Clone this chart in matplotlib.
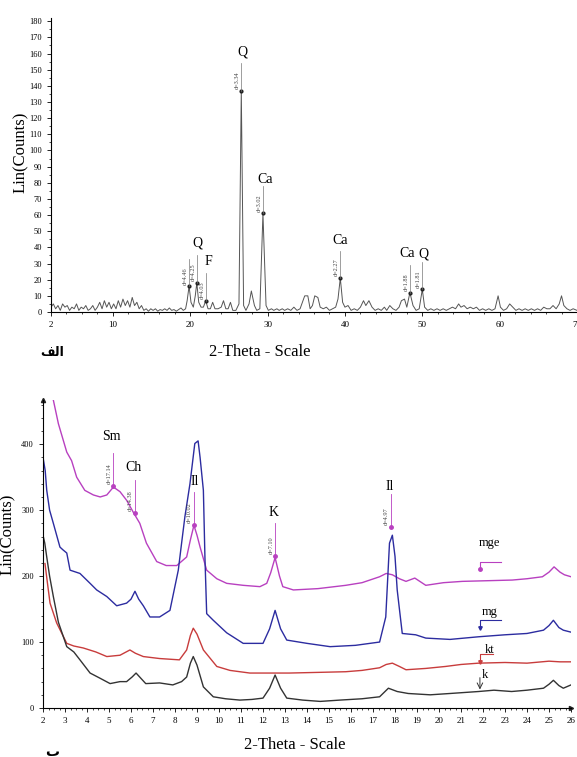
import numpy as np
import matplotlib
matplotlib.use('Agg')
import matplotlib.pyplot as plt
from matplotlib.ticker import MultipleLocator

plt.rcParams['font.family'] = ['Liberation Serif', 'DejaVu Sans']

# top pattern (2-theta, counts)
top_theta = [2.0, 2.3, 2.6, 2.9, 3.2, 3.5, 3.8, 4.1, 4.4, 4.7, 5.0, 5.3, 5.6, 5.9, 6.2, 6.5,
             6.8, 7.1, 7.4, 7.7, 8.0, 8.3, 8.6, 8.9, 9.2, 9.5, 9.8, 10.1, 10.4, 10.7, 11.0,
             11.3, 11.6, 11.9, 12.2, 12.5, 12.8, 13.1, 13.4, 13.7, 14.0, 14.3, 14.6, 14.9,
             15.2, 15.5, 15.8, 16.1, 16.4, 16.7, 17.0, 17.3, 17.6, 17.9, 18.2, 18.5, 18.8,
             19.1, 19.4, 19.6, 19.85, 20.1, 20.4, 20.65, 20.85, 21.1, 21.4, 21.7, 22.0, 22.3,
             22.6, 22.9, 23.2, 23.6, 24.0, 24.3, 24.6, 24.9, 25.2, 25.5, 25.9, 26.3, 26.6,
             26.9, 27.2, 27.6, 27.9, 28.3, 28.6, 29.0, 29.4, 29.8, 30.1, 30.5, 30.8, 31.2,
             31.5, 31.9, 32.2, 32.6, 33.0, 33.4, 33.8, 34.2, 34.5, 34.8, 35.2, 35.5, 35.8,
             36.1, 36.5, 36.8, 37.2, 37.6, 38.0, 38.4, 38.8, 39.1, 39.4, 39.7, 40.0, 40.4,
             40.8, 41.2, 41.6, 42.0, 42.4, 42.7, 43.1, 43.5, 43.9, 44.3, 44.7, 45.1, 45.4,
             45.8, 46.2, 46.6, 47.0, 47.3, 47.7, 48.0, 48.4, 48.8, 49.2, 49.6, 50.0, 50.3,
             50.7, 51.1, 51.5, 51.9, 52.3, 52.7, 53.1, 53.5, 53.9, 54.3, 54.7, 55.0, 55.4,
             55.8, 56.2, 56.6, 57.0, 57.4, 57.8, 58.2, 58.6, 59.0, 59.4, 59.8, 60.1, 60.5,
             60.9, 61.3, 61.7, 62.1, 62.5, 62.9, 63.3, 63.7, 64.1, 64.5, 64.9, 65.3, 65.7,
             66.1, 66.5, 66.9, 67.3, 67.7, 68.0, 68.3, 68.7, 69.1, 69.5, 70.0]
top_counts = [3, 5, 2, 4, 1, 5, 3, 4, 1, 3, 2, 5, 1, 3, 2, 4,
              1, 2, 4, 1, 3, 6, 2, 7, 3, 6, 2, 5, 2, 7, 3,
              8, 4, 7, 3, 9, 4, 6, 2, 4, 1, 2, 0.5, 2,
              1, 2, 0.5, 1.5, 1, 2, 1, 2.5, 1, 1.5, 0.5, 1.5, 2.5,
              1, 2, 7, 16, 6, 3, 10, 18, 6, 3, 3, 7, 2,
              2, 6, 2, 2, 3, 7, 2, 2, 6, 1, 1, 5, 137,
              4, 1, 5, 13, 4, 1, 2, 61, 4, 1, 2, 1, 2,
              1, 2, 1, 2, 1, 3, 1, 2, 6, 10, 10, 2, 4,
              10, 9, 3, 2, 3, 1, 2, 3, 8, 21, 6, 3, 4,
              1, 2, 1, 3, 7, 4, 7, 3, 1, 2, 1, 3, 1,
              4, 2, 1, 3, 7, 8, 3, 12, 4, 1, 2, 14, 3,
              1, 2, 1, 2, 1, 2, 1, 2, 3, 2, 5, 3, 4,
              2, 3, 2, 3, 1, 2, 1, 2, 1, 2, 10, 3, 1,
              2, 5, 3, 1, 2, 1, 2, 1, 2, 1, 2, 1, 3,
              2, 2, 4, 2, 5, 10, 4, 2, 1, 2, 1]

# picked peaks of the top pattern
top_pk_theta = [19.85, 20.85, 22.0, 26.6, 29.4, 39.4, 48.4, 50.0]
top_pk_counts = [16, 18, 7, 137, 61, 21, 12, 14]
top_pk_d = ['d=4.46', 'd=4.25', 'd=4.03', 'd=3.34', 'd=3.02', 'd=2.27', 'd=1.88', 'd=1.81']
top_min_labels = ['Q', 'F', 'Q', 'Ca', 'Ca', 'Ca', 'Q']
top_min_theta = [20.9, 22.3, 26.7, 29.7, 39.4, 48.0, 50.1]
top_min_counts = [43, 31, 161, 82, 44, 36, 36]

# bottom patterns
mge_theta = [2.45, 2.7, 3.08, 3.3, 3.53, 3.9, 4.29, 4.6, 4.9, 5.2, 5.5, 5.8, 6.1, 6.4, 6.7, 7.17,
             7.6, 8.08, 8.53, 8.7, 8.86, 9.0, 9.14, 9.44, 9.9, 10.35, 11.1, 11.86, 12.17, 12.35,
             12.55, 12.75, 12.9, 13.38, 14.5, 15.76, 16.5, 17.3, 17.6, 17.88, 18.2, 18.5, 18.9,
             19.4, 20.2, 21.06, 22.2, 23.33, 24.0, 24.7, 25.0, 25.23, 25.5, 25.7, 26.0]
mge_counts = [470, 431, 388, 375, 350, 330, 323, 320, 323, 335, 328, 315, 297, 280, 250, 222,
              216, 216, 229, 255, 277, 262, 244, 209, 196, 189, 186, 184, 189, 205,
              228, 200, 184, 179, 181, 186, 190, 199, 204, 202, 196, 192, 197,
              186, 190, 192, 193, 194, 196, 199, 206, 214, 206, 202, 199]

mg_theta = [2.0, 2.1, 2.17, 2.3, 2.47, 2.77, 2.9, 3.08, 3.23, 3.68, 4.14, 4.44, 4.9, 5.35, 5.8,
            6.0, 6.18, 6.35, 6.56, 6.86, 7.3, 7.77, 8.15, 8.3, 8.45, 8.68, 8.9, 9.05, 9.14,
            9.29, 9.36, 9.44, 9.74, 10.35, 11.1, 12.0, 12.3, 12.55, 12.8, 13.08, 14.0, 15.05,
            16.2, 17.3, 17.58, 17.75, 17.88, 18.0, 18.1, 18.33, 18.94, 19.4, 20.5, 21.8, 23.0,
            24.0, 24.75, 25.0, 25.2, 25.45, 25.65, 26.0]
mg_counts = [380, 360, 330, 300, 280, 244, 240, 235, 209, 204, 189, 179, 169, 155, 159,
             165, 177, 165, 155, 138, 138, 148, 209, 250, 290, 340, 401, 405, 380,
             330, 229, 143, 133, 114, 98, 98, 120, 148, 120, 103, 98, 93,
             95, 100, 138, 250, 262, 230, 179, 113, 111, 106, 104, 108, 111,
             113, 118, 125, 133, 122, 118, 115]

kt_theta = [2.09, 2.2, 2.32, 2.62, 3.08, 3.4, 3.83, 4.4, 4.9, 5.5, 5.95, 6.2, 6.56, 7.3, 8.2,
            8.53, 8.7, 8.83, 9.0, 9.29, 9.9, 10.5, 11.4, 12.3, 13.2, 14.5, 15.76, 16.5, 17.3,
            17.6, 17.88, 18.2, 18.5, 19.4, 20.3, 21.0, 21.8, 23.0, 24.0, 25.0, 25.5, 26.0]
kt_counts = [219, 190, 159, 129, 98, 94, 91, 85, 78, 80, 88, 83, 78, 75, 73,
             88, 110, 121, 112, 88, 63, 57, 53, 53, 53, 54, 55, 57, 61,
             66, 68, 63, 58, 60, 63, 66, 68, 69, 68, 71, 70, 70]

k_theta = [2.0, 2.08, 2.17, 2.3, 2.47, 2.7, 3.08, 3.4, 3.68, 4.14, 4.6, 5.05, 5.5, 5.8, 6.05,
           6.23, 6.45, 6.67, 7.3, 7.9, 8.3, 8.53, 8.7, 8.83, 9.0, 9.29, 9.74, 10.3, 10.95, 11.5,
           12.0, 12.3, 12.55, 12.8, 13.08, 13.8, 14.6, 15.5, 16.5, 17.3, 17.7, 18.1, 18.6, 19.6,
           20.5, 21.8, 22.5, 23.3, 24.0, 24.75, 25.0, 25.2, 25.45, 25.65, 26.0]
k_counts = [262, 250, 229, 200, 169, 130, 93, 85, 73, 53, 45, 37, 40, 40, 47,
            53, 45, 37, 38, 35, 40, 47, 68, 78, 65, 32, 17, 14, 12, 13,
            15, 30, 50, 30, 15, 12, 10, 12, 14, 17, 30, 25, 22, 20,
            22, 25, 27, 25, 27, 30, 36, 42, 34, 30, 35]

bot_pk_theta = [5.2, 6.18, 8.86, 12.55, 17.8]
bot_pk_counts = [337, 295, 277, 230, 275]
bot_pk_d = ['d=17.14', 'd=14.38', 'd=10.02', 'd=7.10', 'd=4.97']
bot_min_labels = ['Sm', 'Ch', 'Il', 'K', 'Il']
bot_min_theta = [5.1, 6.1, 8.9, 12.5, 17.77]
bot_min_counts = [411, 364, 343, 297, 336]

sample_names = ['mge', 'mg', 'kt', 'k']
sample_colors = ['#b840c0', '#2c2ca0', '#c83c3c', '#333333']
flag_counts = [210, 121, 70, 28]
name_counts = [250, 146, 88, 50]

fig = plt.figure(figsize=(5.77, 7.57), dpi=100)

# ---- top panel
ax1 = fig.add_axes([51/577, 445/757, 526/577, 294/757])
ax1.plot(top_theta, top_counts, color='#555555', linewidth=0.7)
ax1.set_xlim(2, 70)
ax1.set_ylim(0, 182)
for x, y, d in zip(top_pk_theta, top_pk_counts, top_pk_d):
    ax1.plot(x, y, 'o', color='#222222', markersize=2)
    ax1.plot([x, x], [y, y + 17], color='#777777', linewidth=0.5)
    ax1.text(x - 0.15, y + 1, d, rotation=90, fontsize=4.5, ha='right', va='bottom', color='#444444')
for lab, x, y in zip(top_min_labels, top_min_theta, top_min_counts):
    ax1.text(x, y, lab, fontsize=10, ha='center', va='center')
ax1.set_xticks([2, 10, 20, 30, 40, 50, 60, 70])
ax1.set_yticks(np.arange(0, 181, 10))
ax1.yaxis.set_minor_locator(MultipleLocator(5))
ax1.xaxis.set_minor_locator(MultipleLocator(2))
ax1.tick_params(labelsize=6.5, length=3, width=0.6)
ax1.tick_params(axis='y', labelsize=6)
ax1.tick_params(which='minor', length=1.5, width=0.5)
for s in ['top', 'right']:
    ax1.spines[s].set_visible(False)
for s in ['left', 'bottom']:
    ax1.spines[s].set_linewidth(0.8)

fig.text(21/577, 1 - 152/757, 'Lin(Counts)', rotation=90, fontsize=12, ha='center', va='center')
fig.text(260/577, 1 - 352/757, '2-Theta - Scale', fontsize=12, ha='center', va='center')
fig.text(52/577, 1 - 352/757, '\ufed2\ufedf\ufe8d', family='DejaVu Sans', fontsize=9,
         fontweight='bold', ha='center', va='center')

# ---- bottom panel
ax2 = fig.add_axes([43/577, 49/757, 528/577, 308/757])
curves = [(mge_theta, mge_counts), (mg_theta, mg_counts), (kt_theta, kt_counts), (k_theta, k_counts)]
for (tx, ty), c in zip(curves, sample_colors):
    ax2.plot(tx, ty, color=c, linewidth=1.0)
ax2.set_xlim(2, 26)
ax2.set_ylim(0, 467)
for x, y, d in zip(bot_pk_theta, bot_pk_counts, bot_pk_d):
    ax2.plot(x, y, 'o', color=sample_colors[0], markersize=2.5)
    ax2.plot([x, x], [y, y + 50], color=sample_colors[0], linewidth=0.6)
    ax2.text(x - 0.08, y + 3, d, rotation=90, fontsize=4.5, ha='right', va='bottom', color='#444444')
for lab, x, y in zip(bot_min_labels, bot_min_theta, bot_min_counts):
    ax2.text(x, y, lab, fontsize=10, ha='center', va='center')

fx = 21.86
for name, c, fy, ny in zip(sample_names, sample_colors, flag_counts, name_counts):
    if name == 'k':
        ax2.annotate('', xy=(fx, fy), xytext=(fx, fy + 18),
                     arrowprops=dict(arrowstyle='->', color=c, lw=0.7, shrinkA=0, shrinkB=0))
    else:
        ax2.plot(fx, fy, 'v' if name != 'mge' else 'o', color=c, markersize=2.5)
        ax2.plot([fx, fx, fx + (0.6 if name == 'kt' else 0.95)], [fy, fy + 12, fy + 12],
                 color=c, linewidth=0.8)
    ax2.text(fx + 0.1 if name in ('k',) else fx + 0.45, ny, name, fontsize=9,
             ha='center' if name != 'k' else 'left', va='center')

ax2.set_xticks(np.arange(2, 27, 1))
ax2.set_yticks([0, 100, 200, 300, 400])
ax2.xaxis.set_minor_locator(MultipleLocator(0.25))
ax2.yaxis.set_minor_locator(MultipleLocator(20))
ax2.tick_params(labelsize=6.5, length=3, width=0.6)
ax2.tick_params(axis='y', labelsize=6)
ax2.tick_params(which='minor', length=1.5, width=0.5)
for s in ['top', 'right']:
    ax2.spines[s].set_visible(False)
for s in ['left', 'bottom']:
    ax2.spines[s].set_linewidth(0.8)
ax2.plot(0, 1, '^', color='#222222', markersize=3, transform=ax2.transAxes, clip_on=False)
ax2.plot(1, 0, '>', color='#222222', markersize=3, transform=ax2.transAxes, clip_on=False)

fig.text(8/577, 1 - 534/757, 'Lin(Counts)', rotation=90, fontsize=12, ha='center', va='center')
fig.text(295/577, 1 - 745/757, '2-Theta - Scale', fontsize=12, ha='center', va='center')
fig.text(52/577, 1 - 752/757, '\u0628', family='DejaVu Sans', fontsize=10,
         fontweight='bold', ha='center', va='center')

fig.savefig('out.png', dpi=100)
